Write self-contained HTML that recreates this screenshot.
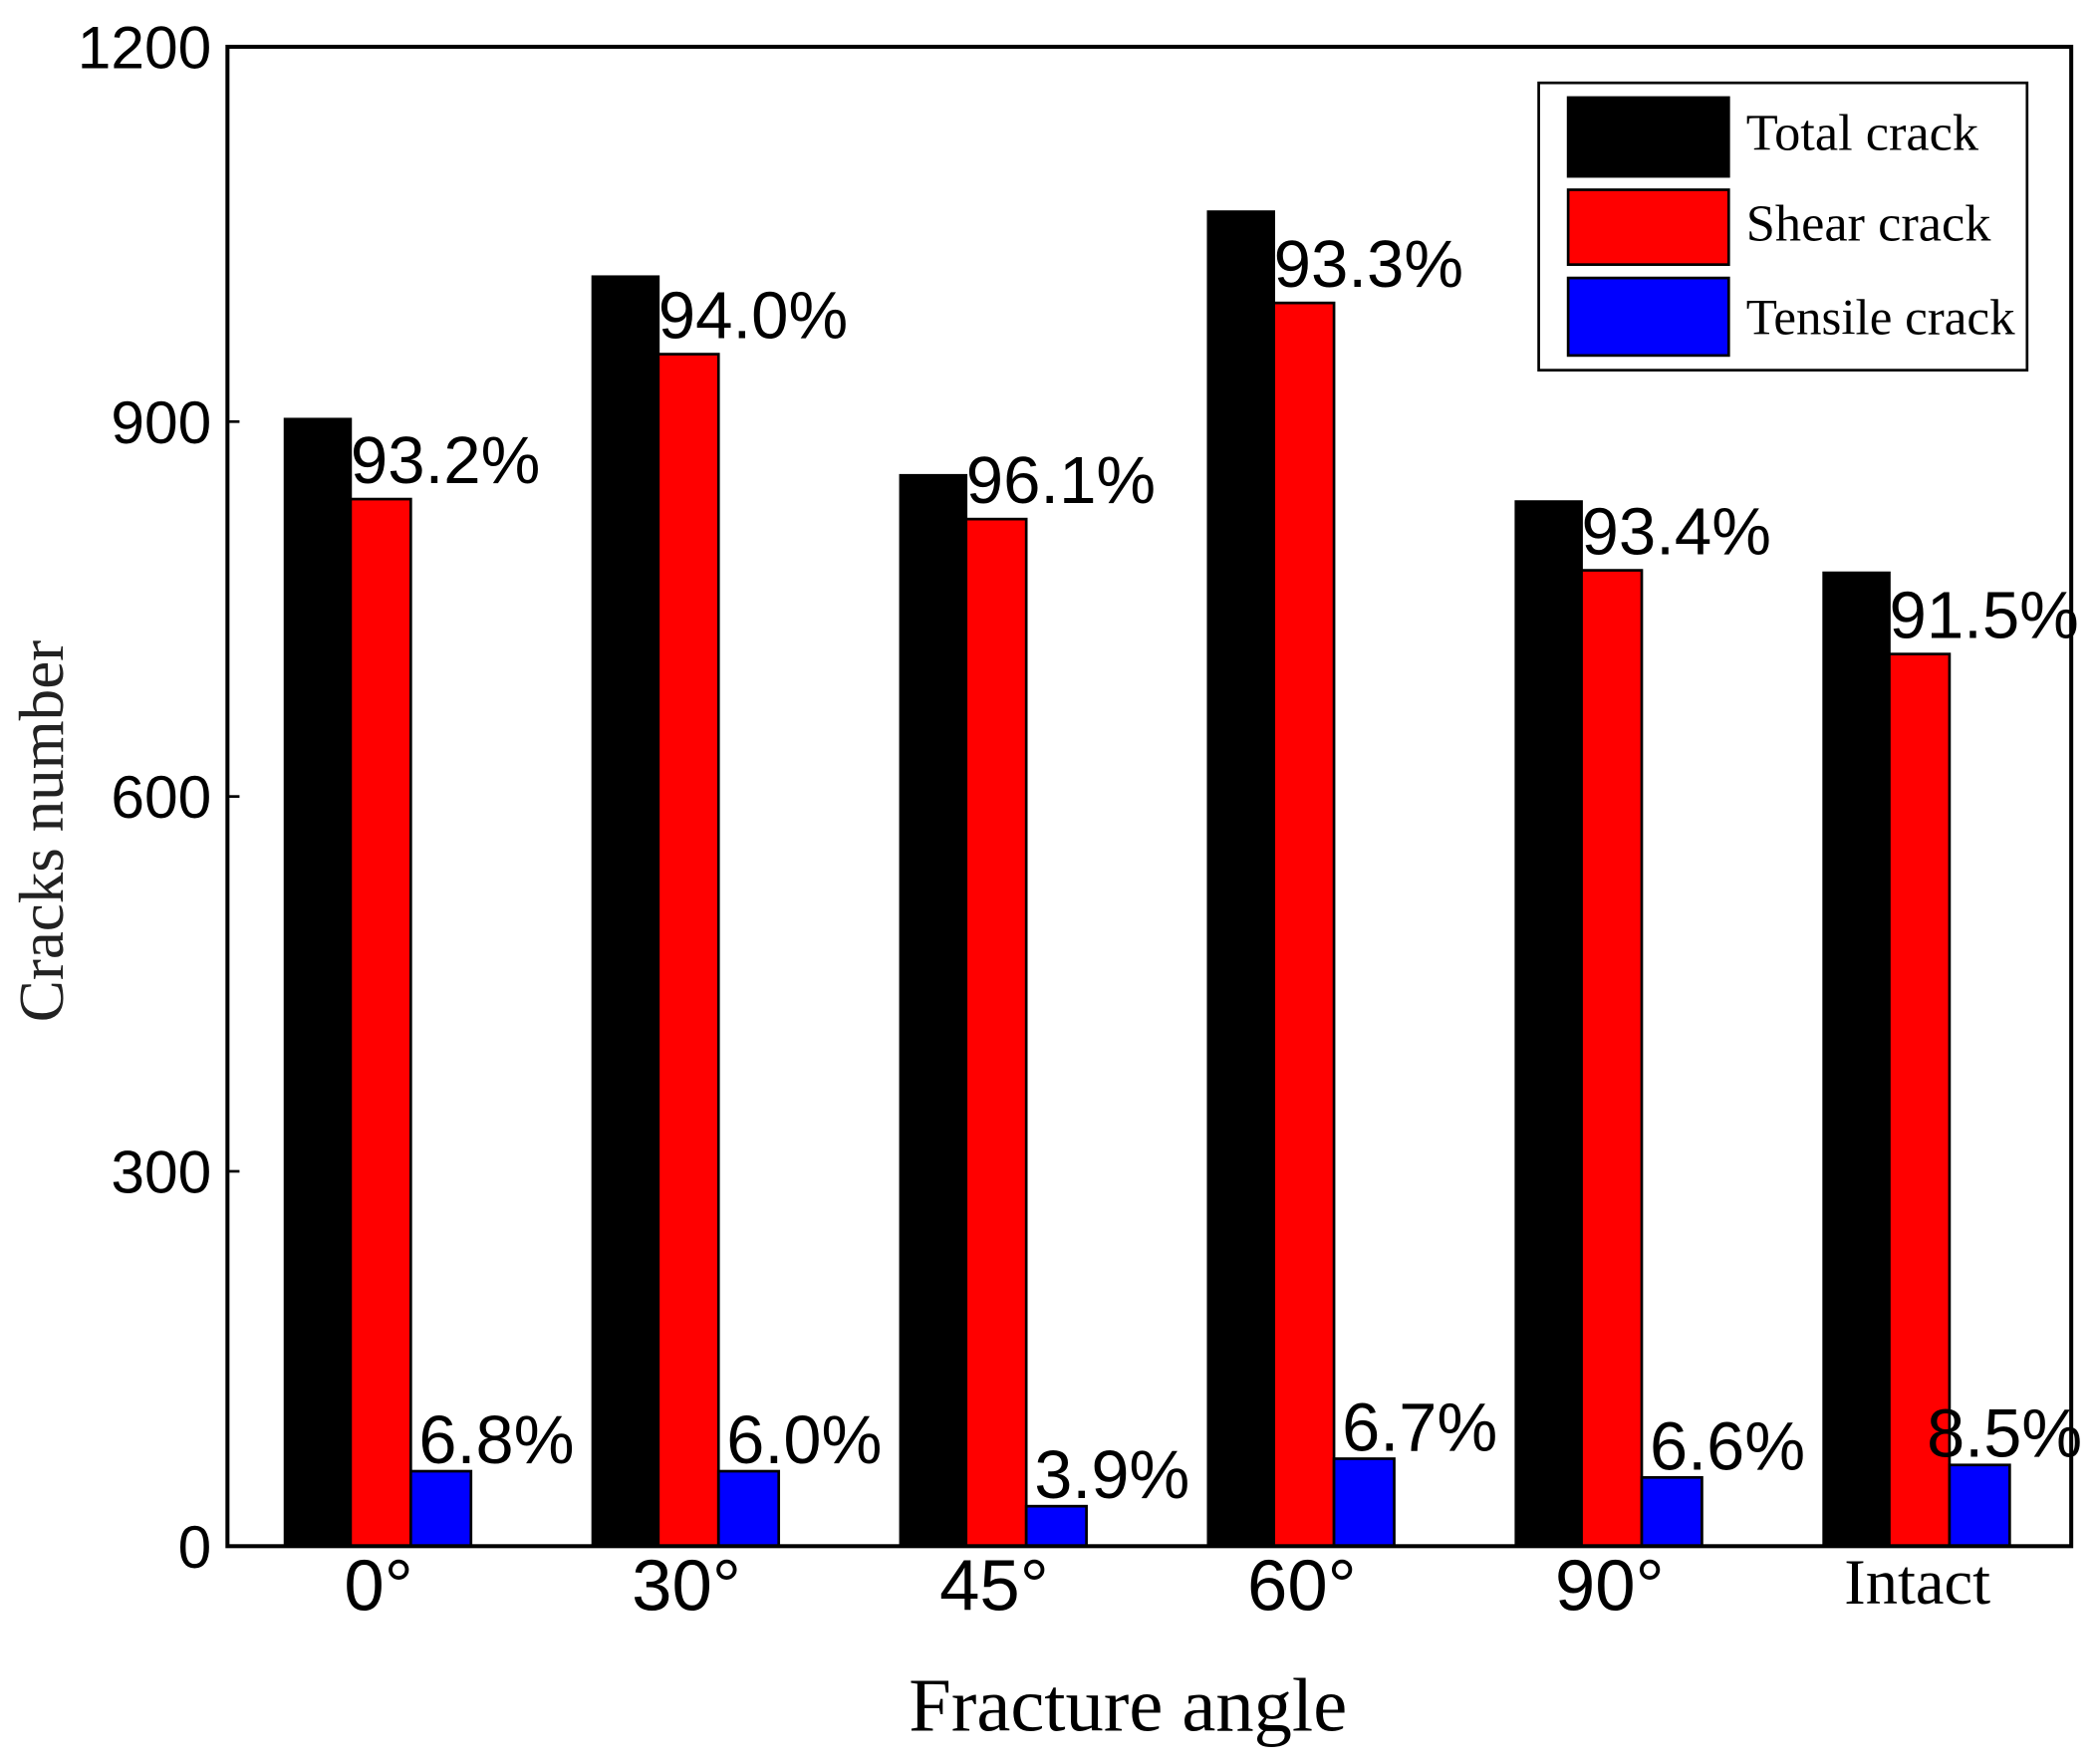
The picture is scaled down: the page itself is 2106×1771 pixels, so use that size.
<!DOCTYPE html>
<html><head><meta charset="utf-8"><style>
html,body{margin:0;padding:0;background:#fff;}
svg{display:block;}
</style></head><body>
<svg id="chart" width="2106" height="1771" viewBox="0 0 1568 1320" preserveAspectRatio="none" xmlns="http://www.w3.org/2000/svg">
<g id="bars"></g>
<g id="labels"></g>
<rect x="170" y="35" width="1378" height="1122" fill="none" stroke="#000" stroke-width="3"/>
<g id="yaxis"></g>
<g id="xaxis"></g>
<text x="843" y="1295" text-anchor="middle" font-family="'Liberation Serif',serif" font-size="57">Fracture angle</text>
<text transform="translate(47,622) rotate(-90)" text-anchor="middle" font-family="'Liberation Serif',serif" font-size="47" fill="#222">Cracks number</text>
<g>
<rect x="1150" y="62" width="365" height="215" fill="#fff" stroke="#000" stroke-width="2"/>
<g>
<rect x="1172" y="73" width="120" height="59" fill="#000" stroke="#000" stroke-width="2"/>
<text x="1305" y="112" font-family="'Liberation Serif',serif" font-size="39">Total crack</text></g>
<g>
<rect x="1172" y="142" width="120" height="56" fill="#ff0000" stroke="#000" stroke-width="2"/>
<text x="1305" y="180" font-family="'Liberation Serif',serif" font-size="39">Shear crack</text></g>
<g>
<rect x="1172" y="208" width="120" height="58" fill="#0000ff" stroke="#000" stroke-width="2"/>
<text x="1305" y="250" font-family="'Liberation Serif',serif" font-size="38">Tensile crack</text></g>
</g>
</svg>
<script>
const categories = ["0°", "30°", "45°", "60°", "90°", "Intact"];
const totalCracks = [902, 1016, 857, 1068, 836, 779];
const shearCracks = [838, 954, 822, 995, 781, 714];
const tensileCracks = [60, 60, 32, 70, 55, 65];
const shearLabels = ["93.2%", "94.0%", "96.1%", "93.3%", "93.4%", "91.5%"];
const tensileLabels = ["6.8%", "6.0%", "3.9%", "6.7%", "6.6%", "8.5%"];
const yTicks = [0, 300, 600, 900, 1200];

const NS = "http://www.w3.org/2000/svg";
const plotL = 170, plotR = 1548, plotT = 35, plotB = 1157;
function y(v){ return plotB - (v / 1200) * (plotB - plotT); }
function groupX(i){ return 213 + i * 230; }
function mk(tag, attrs, parent){ const e = document.createElementNS(NS, tag); for (const k in attrs) e.setAttribute(k, attrs[k]); parent.appendChild(e); return e; }

const bars = document.getElementById('bars');
const labels = document.getElementById('labels');
const series = [
  {vals: totalCracks, color: "#000", off: 0, w: 49, name: "total"},
  {vals: shearCracks, color: "#ff0000", off: 49, w: 45, name: "shear"},
  {vals: tensileCracks, color: "#0000ff", off: 94, w: 45, name: "tensile"}
];
categories.forEach((c, i) => {
  series.forEach(s => {
    const r = mk('rect', {x: groupX(i) + s.off, y: y(s.vals[i]), width: s.w, height: plotB - y(s.vals[i]), fill: s.color, stroke: "#000", "stroke-width": 2}, bars);
    
    
  });
  const t1 = mk('text', {x: groupX(i) + 49, y: y(shearCracks[i]) - 12, "font-family": "'Liberation Sans',sans-serif", "font-size": 50}, labels);
  t1.textContent = shearLabels[i];
  
  
  const tx = groupX(i) + (i === categories.length - 1 ? 77 : 100);
  const t2 = mk('text', {x: tx, y: y(tensileCracks[i]) - 6, "font-family": "'Liberation Sans',sans-serif", "font-size": 51}, labels);
  t2.textContent = tensileLabels[i];
  
  
  const isText = c === "Intact";
  const xl = mk('text', {x: groupX(i) + 70, y: isText ? 1200 : 1205, "text-anchor": "middle", "font-family": isText ? "'Liberation Serif',serif" : "'Liberation Sans',sans-serif", "font-size": isText ? 48 : 54}, document.getElementById('xaxis'));
  xl.textContent = c;
  
  
});
const ya = document.getElementById('yaxis');
yTicks.forEach(v => {
  const t = mk('text', {x: 158, y: y(v) + 16, "text-anchor": "end", "font-family": "'Liberation Sans',sans-serif", "font-size": 45}, ya);
  t.textContent = v;
  
  
  const tk = mk('line', {x1: plotL, x2: plotL + 9, y1: y(v), y2: y(v), stroke: "#000", "stroke-width": 2}, ya);
  
  
});
</script>
</body></html>
